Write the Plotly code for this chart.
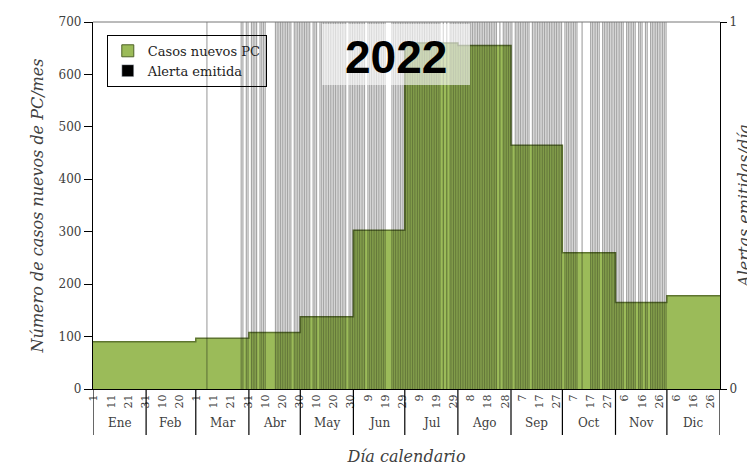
# Casos nuevos PC por mes y alertas emitidas por dia, 2022

import plotly.graph_objects as go

months = ["Ene", "Feb", "Mar", "Abr", "May", "Jun", "Jul", "Ago", "Sep", "Oct", "Nov", "Dic"]
month_days = [31, 29, 31, 30, 31, 30, 31, 31, 30, 31, 30, 31]
cases = [90, 90, 97, 108, 138, 303, 660, 655, 465, 260, 165, 178]

day_ticks = [1, 11, 21, 31, 41, 51, 61, 71, 81, 91, 101, 111, 121, 131, 141, 151, 161, 171, 181,
             191, 201, 211, 221, 231, 241, 251, 261, 271, 281, 291, 301, 311, 321, 331, 341, 351, 361]
day_labels = ["1", "11", "21", "31", "10", "20", "1", "11", "21", "31", "10", "20", "30", "10", "20", "30",
              "9", "19", "29", "9", "19", "29", "8", "18", "28", "7", "17", "27", "7", "17", "27",
              "6", "16", "26", "6", "16", "26"]

alert_days = [
    67, 87, 88, 90, 91, 93, 94, 95, 96, 98, 99, 100, 101,
    107, 108, 109, 110, 111, 112, 113, 114, 115, 116, 118, 119, 120, 121, 122, 123, 124, 125, 126, 127,
    129, 130, 131, 133, 134, 135, 136, 137, 138, 139, 140, 141, 142, 143, 144, 145, 146, 147, 148,
    150, 151, 152, 153, 154, 155, 156, 157, 158, 159, 161, 162, 163, 164, 165, 166, 167, 168, 169, 170, 171,
    175, 176, 177, 178, 179, 180, 181, 182, 183, 184, 185, 186, 187, 188, 189, 190, 191, 192, 193, 194,
    195, 196, 197, 198, 199, 200, 201, 202, 203, 205, 207,
    209, 210, 211, 212, 213, 214, 215, 216, 217, 218, 219, 220, 221, 222, 223, 224, 225, 226, 227, 228,
    229, 230, 231, 232, 233, 234, 235, 236, 238, 240, 241, 242, 243, 244, 245,
    247, 248, 249, 250, 251, 252, 253, 254, 255, 257, 258, 259, 260, 261, 262, 263, 264, 265, 266, 267,
    268, 269, 270, 271, 272, 273, 274, 276, 277, 278, 279, 280, 281, 282, 283, 286,
    291, 292, 293, 294, 295, 296, 298, 299, 300, 301, 302, 303, 304, 305, 306, 307, 308, 309, 310,
    312, 313, 314, 315, 316, 317, 319, 320, 321, 323, 324, 326, 327, 328, 329, 330, 331, 332, 333, 334, 335,
]

serif = "DejaVu Serif"
txt = "#404040"

# month boundaries on the day axis
starts = []
d = 1
for n in month_days:
    starts.append(d)
    d += n
edges = [s - 0.5 for s in starts] + [d - 0.5]

fig = go.Figure()
fig.add_trace(go.Scatter(x=edges, y=cases + [cases[-1]], mode="lines", line_shape="hv",
                         fill="tozeroy", fillcolor="#9BBB59",
                         line=dict(color="#5E7530", width=1.5), showlegend=False))
fig.add_trace(go.Bar(x=alert_days, y=[1] * len(alert_days), yaxis="y2", width=0.7,
                     marker=dict(color="rgba(0,0,0,0.35)", line=dict(width=0)), showlegend=False))
# legend entries
fig.add_trace(go.Bar(x=[None], y=[None], name="Casos nuevos PC",
                     marker=dict(color="#9BBB59", line=dict(color="#4F6228", width=1))))
fig.add_trace(go.Bar(x=[None], y=[None], name="Alerta emitida", marker=dict(color="black")))

shapes = []
for b in edges:
    shapes.append(dict(type="line", xref="x", yref="paper", x0=b, x1=b, y0=0, y1=-0.125,
                       line=dict(color="black", width=1.2)))
shapes.append(dict(type="line", xref="paper", yref="paper", x0=0, x1=1, y0=1, y1=1,
                   line=dict(color="#777777", width=1)))
# translucent box behind the year
shapes.append(dict(type="rect", xref="paper", yref="paper", x0=(322 - 93) / 627, x1=(470 - 93) / 627,
                   y0=(389 - 85) / 367, y1=(389 - 24) / 367, fillcolor="rgba(255,255,255,0.6)",
                   line=dict(width=0), layer="above"))

annotations = []
for m, s, n in zip(months, starts, month_days):
    annotations.append(dict(x=s + n / 2 - 0.5, y=-0.093, xref="x", yref="paper", text=m,
                            xanchor="center", yanchor="middle", showarrow=False,
                            font=dict(family=serif, size=12, color=txt)))
annotations.append(dict(x=(396 - 93) / 627, y=(389 - 57) / 367, xref="paper", yref="paper",
                        text="<b>2022</b>", xanchor="center", yanchor="middle", showarrow=False,
                        font=dict(family="Liberation Sans, Arial", size=46, color="black")))

fig.update_layout(
    width=747, height=464,
    margin=dict(l=85, r=35, t=14, b=83),
    paper_bgcolor="white", plot_bgcolor="white",
    barmode="overlay",
    shapes=shapes, annotations=annotations,
    legend=dict(x=0.022, y=0.965, xanchor="left", yanchor="top", bgcolor="rgba(0,0,0,0)",
                bordercolor="black", borderwidth=1, font=dict(family=serif, size=13, color="#222222")),
    xaxis=dict(range=[0.5, 366.5], tickvals=day_ticks, ticktext=day_labels, tickangle=-90,
               tickfont=dict(family=serif, size=11, color=txt), showline=True, linecolor="black",
               linewidth=1.2, showgrid=False, zeroline=False, automargin=False,
               title=dict(text="Día calendario", standoff=43,
                          font=dict(family=serif, size=16, color=txt, style="italic"))),
    yaxis=dict(range=[0, 700], dtick=100, ticks="outside", ticklen=8, tickcolor="black",
               tickfont=dict(family=serif, size=12, color=txt), showline=True, linecolor="black",
               linewidth=1.2, showgrid=False, zeroline=False, automargin=False,
               title=dict(text="Número de casos nuevos de PC/mes", standoff=10,
                          font=dict(family=serif, size=16, color=txt, style="italic"))),
    yaxis2=dict(range=[0, 1], tickvals=[0, 1], overlaying="y", side="right", ticks="outside",
                ticklen=6, tickcolor="black", tickfont=dict(family=serif, size=12, color=txt),
                showline=True, linecolor="black", linewidth=1.2, showgrid=False, zeroline=False,
                automargin=False,
                title=dict(text="Alertas emitidas/día", standoff=2,
                           font=dict(family=serif, size=16, color=txt, style="italic"))),
)

fig.write_html("out.html")
